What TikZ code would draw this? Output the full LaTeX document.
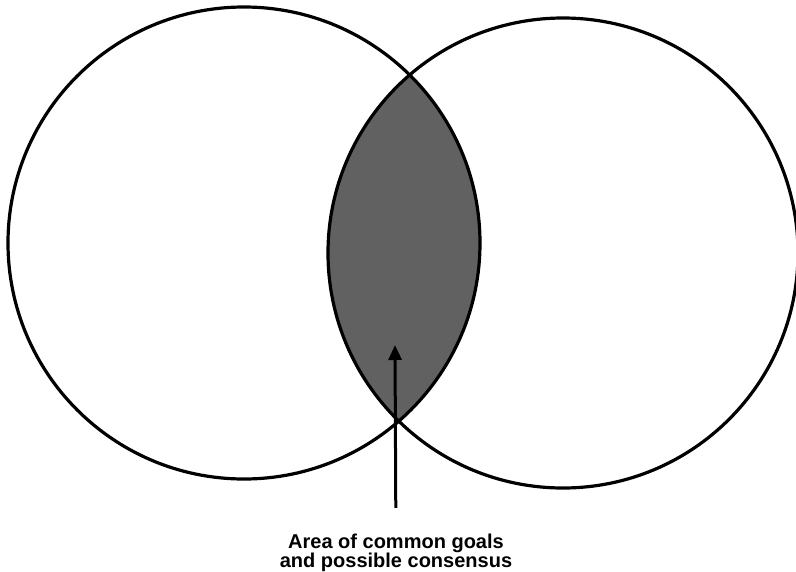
\documentclass[tikz,border=0pt]{standalone}
\usepackage{fontspec}
\setmainfont{Liberation Sans}
\usetikzlibrary{arrows.meta, positioning}

\begin{document}
\begin{tikzpicture}[
        x=1pt, y=-1pt,
        ring/.style={line width=3.2pt},
        overlap/.style={fill=black!62},
        pointer/.style={line width=3pt, -{Triangle[length=15pt, width=13pt]}},
        caption/.style={align=center, inner sep=0pt, font=\bfseries\fontsize{20}{19}\selectfont},
    ]
        \useasboundingbox (0,0) rectangle (796,571);

        % Centres of the two circles
        \coordinate (left) at (244,243);
        \coordinate (right) at (563,253);

        % Shaded overlap
        \begin{scope}
            \clip (left) circle[radius=236pt];
            \fill[overlap] (right) circle[radius=235pt];
        \end{scope}

        % Circles
        \draw[ring] (left) circle[radius=236pt];
        \draw[ring] (right) circle[radius=235pt];

        % Pointer & label
        \coordinate (tip) at (395,345);
        \node[caption] (label) at (396,553) {Area of common goals\\and possible consensus};
        \draw[pointer, shorten <=26pt] (label) -- (tip);
    \end{tikzpicture}
\end{document}
